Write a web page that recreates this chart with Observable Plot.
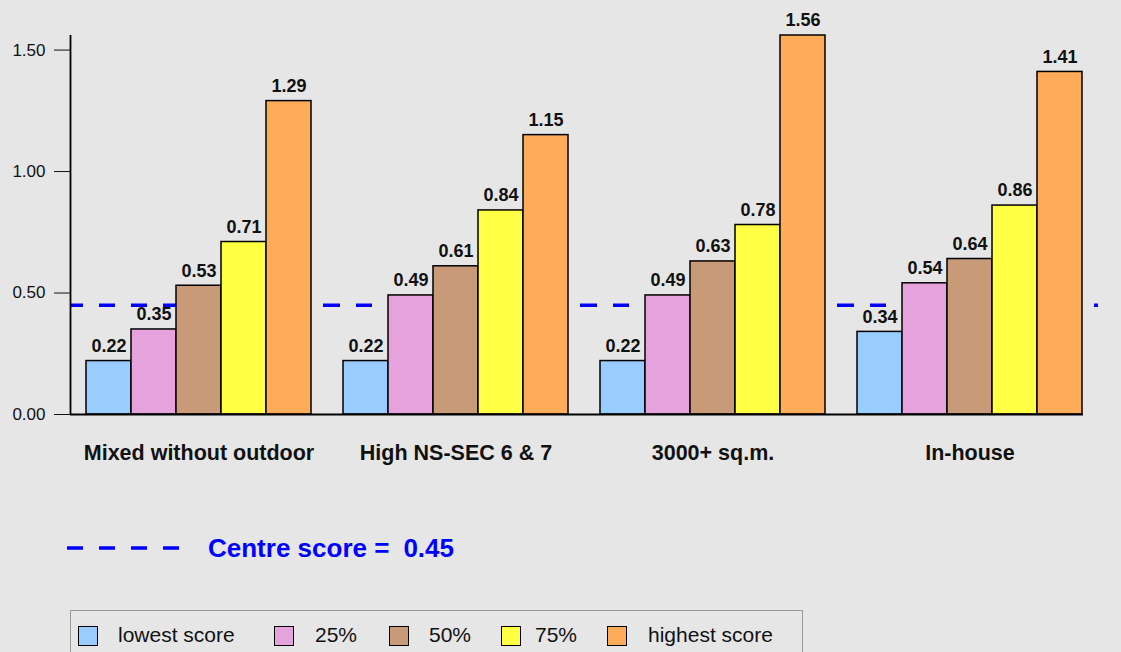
<!DOCTYPE html>
<html>
<head>
<meta charset="utf-8">
<script src="https://cdn.jsdelivr.net/npm/d3@7"></script>
<script src="https://cdn.jsdelivr.net/npm/@observablehq/plot@0.6"></script>
<style>
  html, body { margin: 0; padding: 0; background: #e6e6e6; width: 1121px; height: 652px; overflow: hidden; position: relative; font-family: "Liberation Sans", Arial, Helvetica, sans-serif; }
  #chart { position: absolute; left: 0; top: 0; }
  #chart svg [aria-label^="fx-axis"] text { font-weight: bold; font-size: 21.5px; fill: #111; }
  #chart svg [aria-label^="y-axis"] text { font-size: 17px; fill: #111; }
  #centre { position: absolute; left: 67px; top: 530px; height: 36px; }
  #centre .lbl { position: absolute; left: 141px; top: 0; white-space: nowrap; color: #0000ff; font-weight: bold; font-size: 26px; line-height: 36px; }
  #legend { position: absolute; left: 70px; top: 610px; width: 733px; height: 60px; border: 1.5px solid #999; box-sizing: border-box; }
  #legend .sw { position: absolute; top: 15px; width: 18px; height: 18px; border: 1.2px solid #000; }
  #legend .tx { position: absolute; top: 11px; font-size: 21px; line-height: 26px; color: #111; white-space: nowrap; }
</style>
</head>
<body>
<div id="chart"></div>
<div id="centre"></div>
<div id="legend"></div>
<script>
const categories = ["Mixed without outdoor", "High NS-SEC 6 & 7", "3000+ sq.m.", "In-house"];
const series = ["lowest score", "25%", "50%", "75%", "highest score"];
const colors = ["#99ccff", "#e6a2dd", "#c89a78", "#ffff44", "#ffac5a"];
const lowest = [0.22, 0.22, 0.22, 0.34];
const p25 = [0.35, 0.49, 0.49, 0.54];
const p50 = [0.53, 0.61, 0.63, 0.64];
const p75 = [0.71, 0.84, 0.78, 0.86];
const highest = [1.29, 1.15, 1.56, 1.41];
const centreScore = 0.45;
const yTicks = [0, 0.5, 1.0, 1.5];
const centreLabel = "Centre score =";

const valuesBySeries = [lowest, p25, p50, p75, highest];
const data = [];
categories.forEach((c, ci) => {
  series.forEach((s, si) => data.push({category: c, series: s, value: valuesBySeries[si][ci]}));
});
const lastCat = categories[categories.length - 1];
const baseFull = categories.filter(c => c !== lastCat).map(c => ({category: c}));
const baseLast = [{category: lastCat}];

const plot = Plot.plot({
  width: 1121,
  height: 480,
  marginLeft: 70,
  marginRight: 23,
  marginTop: 35,
  marginBottom: 66,
  style: {background: "transparent", fontFamily: '"Liberation Sans", Arial, Helvetica, sans-serif', fontSize: "17px", color: "#111"},
  fx: {domain: categories, padding: 0, axis: "bottom", label: null, tickSize: 0, tickPadding: 30},
  x: {domain: series, paddingInner: 0, paddingOuter: 0.343, axis: null},
  y: {domain: [0, 1.56], ticks: yTicks, tickFormat: d3.format(".2f"), tickSize: 16, tickPadding: 9, label: null},
  color: {domain: series, range: colors},
  marks: [
    Plot.ruleY([centreScore], {stroke: "#0000ff", strokeWidth: 3.5, strokeDasharray: "16,16", strokeDashoffset: 3}),
    Plot.barY(data, {fx: "category", x: "series", y: "value", fill: "series", stroke: "#000", strokeWidth: 1.5}),
    Plot.text(data, {fx: "category", x: "series", y: "value", text: d => d.value.toFixed(2), dy: -15, fontWeight: "bold", fontSize: 18, fill: "#111"}),
    Plot.ruleY(baseFull, {fx: "category", y: () => 0, stroke: "#000", strokeWidth: 2}),
    Plot.ruleY(baseLast, {fx: "category", y: () => 0, insetRight: 15, stroke: "#000", strokeWidth: 2})
  ]
});
document.getElementById("chart").appendChild(plot);

// vertical y-axis line via the plot's own y scale
const ys = plot.scale("y");
d3.select(plot).append("line")
  .attr("x1", 70.5).attr("x2", 70.5)
  .attr("y1", ys.apply(0)).attr("y2", ys.apply(1.56))
  .attr("stroke", "#000").attr("stroke-width", 1.8);

// centre score legend
const centre = d3.select("#centre");
const csvg = centre.append("svg").attr("width", 120).attr("height", 36).style("position", "absolute").style("left", 0).style("top", 0);
csvg.append("line").attr("x1", 0).attr("x2", 114).attr("y1", 18).attr("y2", 18)
  .attr("stroke", "#0000ff").attr("stroke-width", 3.5).attr("stroke-dasharray", "16,16");
centre.append("div").attr("class", "lbl").html(centreLabel + '<span style="margin-left:14px">' + d3.format(".2f")(centreScore) + '</span>');

// series legend
const swX = [7, 203, 318, 430, 536];
const txX = [47, 244, 358, 464, 577];
const legend = d3.select("#legend");
series.forEach((s, i) => {
  legend.append("div").attr("class", "sw").style("left", swX[i] + "px").style("background", colors[i]);
  legend.append("div").attr("class", "tx").style("left", txX[i] + "px").text(s);
});
</script>
</body>
</html>
